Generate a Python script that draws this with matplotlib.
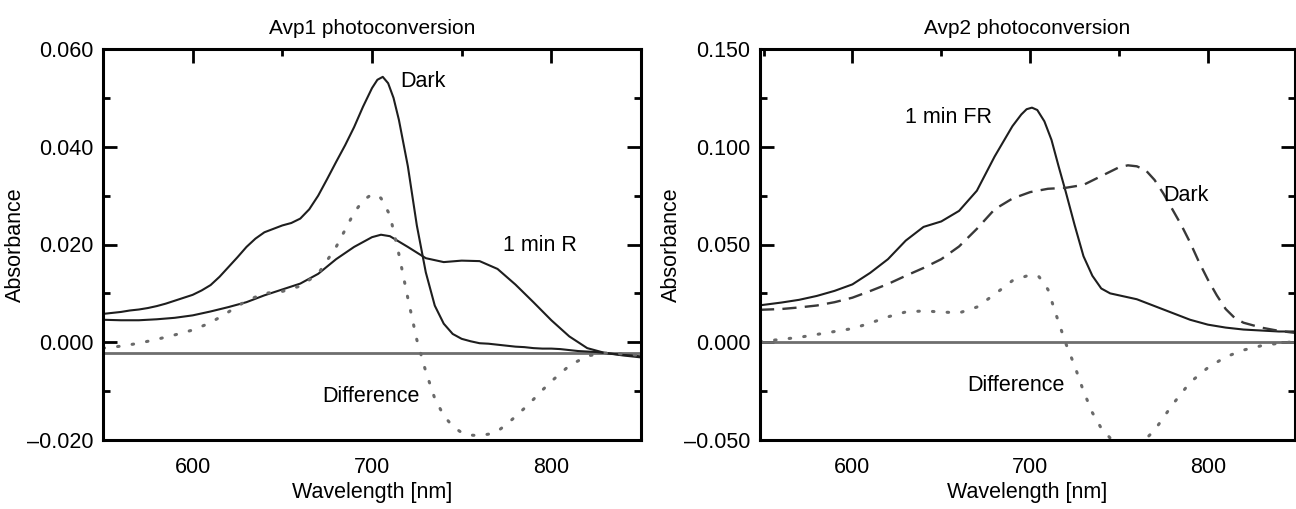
import matplotlib
matplotlib.use('Agg')
import matplotlib.pyplot as plt
from matplotlib.ticker import MultipleLocator, FixedLocator, FixedFormatter

plt.rcParams['font.family'] = ['Liberation Sans', 'DejaVu Sans']

# Avp1 panel (left)
avp1_nm = [550, 555, 560, 565, 570, 575, 580, 585, 590, 595, 600, 605, 610, 615,
           620, 625, 630, 635, 640, 645, 650, 655, 660, 665, 670, 675, 680, 685,
           690, 695, 700, 703, 706, 709, 712, 715, 720, 725, 730, 735, 740, 745, 750,
           755, 760, 765, 770, 775, 780, 785, 790, 795, 800, 805, 810, 815, 820,
           825, 830, 835, 840, 845, 850]
avp1_dark = [0.0058, 0.0060, 0.0062, 0.0065, 0.0067, 0.0070, 0.0074, 0.0079, 0.0085,
             0.0091, 0.0097, 0.0106, 0.0117, 0.0134, 0.0154, 0.0174, 0.0195, 0.0212,
             0.0225, 0.0232, 0.0239, 0.0244, 0.0253, 0.0272, 0.0300, 0.0334, 0.0369,
             0.0403, 0.0440, 0.0482, 0.0520, 0.0537, 0.0543, 0.0530, 0.0500, 0.0455,
             0.0360, 0.0239, 0.0143, 0.0075, 0.0038, 0.0017, 0.0007, 0.0002, -0.0002,
             -0.0003, -0.0005, -0.0007, -0.0009, -0.0010, -0.0012, -0.0013, -0.0013,
             -0.0014, -0.0016, -0.0018, -0.0019, -0.0020, -0.0022, -0.0024, -0.0026,
             -0.0027, -0.0029]
avp1_r_nm = [550, 560, 570, 580, 590, 600, 610, 620, 630, 640, 650, 660, 670, 680,
             690, 700, 705, 710, 720, 730, 740, 750, 760, 770, 780, 790, 800, 810,
             820, 830, 840, 850]
avp1_1minR = [0.0046, 0.0045, 0.0045, 0.0047, 0.0050, 0.0055, 0.0063, 0.0072, 0.0082,
              0.0096, 0.0108, 0.0120, 0.0140, 0.0170, 0.0195, 0.0215, 0.0220, 0.0217,
              0.0195, 0.0172, 0.0164, 0.0167, 0.0166, 0.0150, 0.0118, 0.0082, 0.0045,
              0.0012, -0.0012, -0.0022, -0.0027, -0.0031]
avp1_diff_nm = [550, 560, 570, 580, 590, 600, 610, 620, 630, 640, 650, 660, 670, 680,
                690, 695, 700, 705, 710, 715, 720, 725, 730, 735, 740, 745, 750, 755,
                760, 765, 770, 775, 780, 785, 790, 795, 800, 810, 820, 830, 840, 850]
avp1_diff = [-0.0012, -0.0008, -0.0002, 0.0006, 0.0015, 0.0025, 0.0040, 0.0062, 0.0085,
             0.0100, 0.0104, 0.0115, 0.0140, 0.0195, 0.0265, 0.0290, 0.0303, 0.0295,
             0.0260, 0.0180, 0.0090, 0.0005, -0.0060, -0.0115, -0.0150, -0.0172,
             -0.0185, -0.0190, -0.0191, -0.0188, -0.0182, -0.0168, -0.0152, -0.0135,
             -0.0117, -0.0098, -0.0080, -0.0048, -0.0028, -0.0022, -0.0024, -0.0027]
avp1_baseline = -0.0022
avp1_yticks = [-0.02, 0.0, 0.02, 0.04, 0.06]
avp1_yticklabels = ['\u20130.020', '0.000', '0.020', '0.040', '0.060']

# Avp2 panel (right)
avp2_nm = [548, 560, 570, 580, 590, 600, 610, 620, 630, 640, 650, 660, 670, 680,
           690, 695, 698, 701, 704, 708, 712, 716, 720, 725, 730, 735, 740, 745, 750,
           760, 770, 780, 790, 800, 810, 820, 830, 840, 849]
avp2_1minFR = [0.0189, 0.0203, 0.0217, 0.0237, 0.0263, 0.0296, 0.0355, 0.0425, 0.0520,
               0.0590, 0.0618, 0.0672, 0.0775, 0.0950, 0.1105, 0.1165, 0.1192, 0.1200,
               0.1188, 0.1130, 0.1035, 0.0900, 0.0770, 0.0600, 0.0440, 0.0340, 0.0275,
               0.0250, 0.0240, 0.0220, 0.0185, 0.0150, 0.0115, 0.0090, 0.0075, 0.0065,
               0.0060, 0.0055, 0.0055]
avp2_dark_nm = [548, 560, 570, 580, 590, 600, 610, 620, 630, 640, 650, 660, 670, 680,
                690, 700, 710, 720, 730, 740, 750, 755, 760, 765, 770, 775, 780, 785,
                790, 795, 800, 805, 810, 815, 820, 830, 840, 849]
avp2_dark = [0.0166, 0.0170, 0.0178, 0.0188, 0.0205, 0.0228, 0.0262, 0.0298, 0.0340,
             0.0380, 0.0425, 0.0490, 0.0580, 0.0680, 0.0735, 0.0768, 0.0785, 0.0790,
             0.0805, 0.0850, 0.0895, 0.0905, 0.0900, 0.0880, 0.0830, 0.0760, 0.0680,
             0.0600, 0.0510, 0.0410, 0.0320, 0.0240, 0.0170, 0.0125, 0.0100, 0.0075,
             0.0058, 0.0048]
avp2_diff_nm = [548, 560, 570, 580, 590, 600, 610, 620, 630, 640, 650, 660, 670, 680,
                690, 700, 705, 710, 715, 720, 725, 730, 735, 740, 745, 750, 755, 760,
                765, 770, 775, 780, 790, 800, 810, 820, 830, 840, 849]
avp2_diff = [0.0003, 0.0015, 0.0025, 0.0040, 0.0055, 0.0070, 0.0098, 0.0130, 0.0155,
             0.0160, 0.0155, 0.0150, 0.0180, 0.0245, 0.0315, 0.0345, 0.0335, 0.0270,
             0.0130, -0.0005, -0.0120, -0.0250, -0.0360, -0.0440, -0.0490, -0.0515,
             -0.0520, -0.0515, -0.0495, -0.0450, -0.0385, -0.0320, -0.0205, -0.0130,
             -0.0075, -0.0040, -0.0018, -0.0005, 0.0003]
avp2_baseline = 0.0
avp2_yticks = [-0.05, 0.0, 0.05, 0.10, 0.15]
avp2_yticklabels = ['\u20130.050', '0.000', '0.050', '0.100', '0.150']

x_ticks = [600, 700, 800]
x_ticklabels = ['600', '700', '800']

line_col = '#1e1e1e'
diff_col = '#6a6a6a'
base_col = '#6e6e6e'
fs = 15.5


def style_axes(ax, xlim, ylim, yticks, yticklabels, yminor, title, ylab_x):
    ax.set_xlim(*xlim)
    ax.set_ylim(*ylim)
    ax.xaxis.set_major_locator(FixedLocator(x_ticks))
    ax.xaxis.set_major_formatter(FixedFormatter(x_ticklabels))
    ax.xaxis.set_minor_locator(MultipleLocator(50))
    ax.yaxis.set_major_locator(FixedLocator(yticks))
    ax.yaxis.set_major_formatter(FixedFormatter(yticklabels))
    ax.yaxis.set_minor_locator(MultipleLocator(yminor))
    ax.tick_params(which='both', direction='in', top=True, right=True,
                   bottom=False, width=2, labelsize=fs, color='black')
    ax.tick_params(which='major', length=10)
    ax.tick_params(which='minor', length=5)
    ax.tick_params(axis='x', which='both', labelbottom=True, pad=12)
    ax.tick_params(axis='y', pad=7)
    for s in ax.spines.values():
        s.set_linewidth(2.2)
    ax.set_xlabel('Wavelength [nm]', fontsize=fs, labelpad=3)
    ax.set_ylabel('Absorbance', fontsize=fs)
    ax.yaxis.set_label_coords(ylab_x, 0.5)
    ax.set_title(title, fontsize=15, pad=11)


fig = plt.figure(figsize=(12.96, 5.09), dpi=100)
ax1 = fig.add_axes([103 / 1296, 69 / 509, 538 / 1296, 391 / 509])
ax2 = fig.add_axes([760 / 1296, 69 / 509, 535 / 1296, 391 / 509])

# left panel
ax1.axhline(avp1_baseline, color=base_col, lw=2)
ax1.plot(avp1_nm, avp1_dark, color=line_col, lw=1.5)
ax1.plot(avp1_r_nm, avp1_1minR, color=line_col, lw=1.5)
ax1.plot(avp1_diff_nm, avp1_diff, color=diff_col, lw=2.2, linestyle=(0, (0.5, 4.3)),
         dash_capstyle='round')
ax1.text(716, 0.0533, 'Dark', fontsize=fs, va='center', ha='left')
ax1.text(773, 0.0198, '1 min R', fontsize=fs, va='center', ha='left')
ax1.text(672, -0.011, 'Difference', fontsize=fs, va='center', ha='left')
style_axes(ax1, (550, 850), (-0.02, 0.06), avp1_yticks, avp1_yticklabels, 0.01,
           'Avp1 photoconversion', -0.143)

# right panel
ax2.axhline(avp2_baseline, color=base_col, lw=2)
ax2.plot(avp2_nm, avp2_1minFR, color=line_col, lw=1.5)
ax2.plot(avp2_dark_nm, avp2_dark, color='#383838', lw=1.7, linestyle=(0, (6, 3.5)))
ax2.plot(avp2_diff_nm, avp2_diff, color=diff_col, lw=2.2, linestyle=(0, (0.5, 4.3)),
         dash_capstyle='round')
ax2.text(654, 0.115, '1 min FR', fontsize=fs, va='center', ha='center')
ax2.text(775, 0.075, 'Dark', fontsize=fs, va='center', ha='left')
ax2.text(692, -0.022, 'Difference', fontsize=fs, va='center', ha='center')
style_axes(ax2, (548, 849), (-0.05, 0.15), avp2_yticks, avp2_yticklabels, 0.025,
           'Avp2 photoconversion', -0.145)

fig.savefig('out.png', dpi=100)
